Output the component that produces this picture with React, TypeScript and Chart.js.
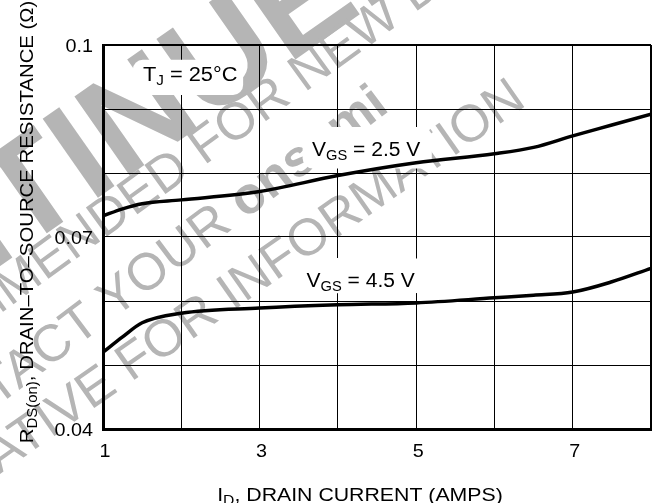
import React, { useEffect, useRef } from "react";
import { Chart, registerables } from "chart.js";

Chart.register(...registerables);

const drainCurrent = [1, 1.25, 1.5, 2, 3, 4, 5, 6, 6.5, 7, 7.5, 8];
const rdsVgs25 = [0.0733, 0.0744, 0.0752, 0.0758, 0.0771, 0.0796, 0.0816, 0.083, 0.084, 0.0858, 0.0875, 0.0892];
const rdsVgs45 = [0.052, 0.0544, 0.0566, 0.0581, 0.0589, 0.0594, 0.0597, 0.0605, 0.0609, 0.0614, 0.063, 0.0651];
const xTickLabels = [1, 3, 5, 7];
const yTickLabels = [0.1, 0.07, 0.04];

const FONT = '"Liberation Sans", Arial, Helvetica, sans-serif';

type Part = { t: string; sub?: boolean };

function partsWidth(ctx: CanvasRenderingContext2D, parts: Part[], size: number, subSize: number) {
  let w = 0;
  for (const p of parts) {
    ctx.font = `${p.sub ? subSize : size}px ${FONT}`;
    w += ctx.measureText(p.t).width;
  }
  return w;
}

function drawParts(
  ctx: CanvasRenderingContext2D,
  parts: Part[],
  x: number,
  y: number,
  size: number,
  subSize: number,
  subOff: number,
  align: "left" | "center",
  sx: number
) {
  const total = partsWidth(ctx, parts, size, subSize);
  const start = align === "center" ? x - (total * sx) / 2 : x;
  ctx.save();
  ctx.translate(start, y);
  ctx.scale(sx, 1);
  ctx.textAlign = "left";
  ctx.textBaseline = "alphabetic";
  let cx = 0;
  for (const p of parts) {
    ctx.font = `${p.sub ? subSize : size}px ${FONT}`;
    ctx.fillText(p.t, cx, p.sub ? subOff : 0);
    cx += ctx.measureText(p.t).width;
  }
  ctx.restore();
  return total * sx;
}

type WPart = { t: string; font: string };
function watermark(ctx: CanvasRenderingContext2D, parts: WPart[], anchor: number, cx: number, cy: number, deg: number) {
  ctx.save();
  ctx.translate(cx, cy);
  ctx.rotate((deg * Math.PI) / 180);
  ctx.textBaseline = "middle";
  ctx.textAlign = "left";
  const widths = parts.map((p) => {
    ctx.font = p.font;
    return ctx.measureText(p.t).width;
  });
  let off = widths[anchor] / 2;
  for (let i = 0; i < anchor; i++) off += widths[i];
  let x = -off;
  parts.forEach((p, i) => {
    ctx.font = p.font;
    ctx.fillText(p.t, x, 0);
    x += widths[i];
  });
  ctx.restore();
}

const customPlugin = {
  id: "customDraw",
  beforeDraw(chart: any) {
    const ctx: CanvasRenderingContext2D = chart.ctx;
    ctx.save();
    ctx.fillStyle = "#b5b5b5";
    const big = `bold 140px ${FONT}`;
    watermark(ctx, [{ t: "DISCON", font: big }, { t: "TINUE", font: big }, { t: "D", font: big }], 1, 170, 100, -35);
    const sm = `52px ${FONT}`;
    const smb = `bold 52px ${FONT}`;
    watermark(ctx, [{ t: "NOT RECOMMENDED ", font: sm }, { t: "FOR", font: sm }, { t: " NEW DESIGN", font: sm }], 1, 240, 122, -36);
    watermark(ctx, [{ t: "CONTACT ", font: sm }, { t: "YOUR", font: sm }, { t: " ", font: sm }, { t: "onsemi", font: smb }], 1, 165, 262, -37);
    watermark(ctx, [{ t: "REPRESENTATIVE FOR ", font: sm }, { t: "INFORMATION", font: sm }], 1, 372, 196, -35);
    ctx.restore();
  },
  beforeDatasetsDraw(chart: any) {
    const ctx: CanvasRenderingContext2D = chart.ctx;
    const xs = chart.scales.x;
    const ys = chart.scales.y;
    ctx.save();
    ctx.fillStyle = "#ffffff";
    const boxes = [
      { x0: 1.38, x1: 2.79, y0: 0.0977, y1: 0.0922 },
      { x0: 3.55, x1: 5.2, y0: 0.0872, y1: 0.0807 },
      { x0: 3.5, x1: 5.1, y0: 0.0667, y1: 0.0612 },
    ];
    for (const b of boxes) {
      const l = xs.getPixelForValue(b.x0);
      const r = xs.getPixelForValue(b.x1);
      const t = ys.getPixelForValue(b.y0);
      const bt = ys.getPixelForValue(b.y1);
      ctx.beginPath();
      (ctx as any).roundRect(l, t, r - l, bt - t, 10);
      ctx.fill();
    }
    ctx.restore();
  },
  afterDraw(chart: any) {
    const ctx: CanvasRenderingContext2D = chart.ctx;
    const xs = chart.scales.x;
    const ys = chart.scales.y;
    const area = chart.chartArea;
    ctx.save();
    ctx.fillStyle = "#000";
    // y tick labels (right-aligned)
    for (const v of yTickLabels) {
      ctx.font = `19px ${FONT}`;
      const w = ctx.measureText(String(v)).width * 1.04;
      drawParts(ctx, [{ t: String(v) }], area.left - 10 - w, ys.getPixelForValue(v) + 7, 19, 14, 4, "left", 1.04);
    }
    // x tick labels
    for (const v of xTickLabels) {
      drawParts(ctx, [{ t: String(v) }], xs.getPixelForValue(v) + 2, area.bottom + 28, 19, 14, 4, "center", 1.04);
    }
    // annotations
    drawParts(ctx, [{ t: "T" }, { t: "J", sub: true }, { t: " = 25°C" }], xs.getPixelForValue(1.51), ys.getPixelForValue(0.0955) + 7, 20, 14, 4, "left", 1.09);
    drawParts(ctx, [{ t: "V" }, { t: "GS", sub: true }, { t: " = 2.5 V" }], xs.getPixelForValue(3.67), ys.getPixelForValue(0.0839) + 8, 20, 14, 4, "left", 1.05);
    drawParts(ctx, [{ t: "V" }, { t: "GS", sub: true }, { t: " = 4.5 V" }], xs.getPixelForValue(3.6), ys.getPixelForValue(0.0633) + 7, 20, 14, 4, "left", 1.05);
    // x title
    drawParts(ctx, [{ t: "I" }, { t: "D", sub: true }, { t: ", DRAIN CURRENT (AMPS)" }], 360, area.bottom + 72, 19, 14, 4, "center", 1.12);
    // y title
    ctx.save();
    ctx.translate(33, 222);
    ctx.rotate(-Math.PI / 2);
    drawParts(ctx, [{ t: "R" }, { t: "DS(on)", sub: true }, { t: ", DRAIN–TO–SOURCE RESISTANCE (Ω)" }], 0, 0, 19, 14, 4, "center", 1.07);
    ctx.restore();
    ctx.restore();
  },
};

export default function App() {
  const ref = useRef<HTMLCanvasElement | null>(null);
  useEffect(() => {
    document.body.style.margin = "0";
    const canvas = ref.current;
    if (!canvas) return;
    const near = (a: number, b: number) => Math.abs(a - b) < 1e-9;
    const chart = new Chart(canvas, {
      type: "line",
      data: {
        labels: drainCurrent,
        datasets: [
          {
            label: "VGS = 2.5 V",
            data: drainCurrent.map((x, i) => ({ x, y: rdsVgs25[i] })),
            borderColor: "#000",
            borderWidth: 3.5,
            pointRadius: 0,
            cubicInterpolationMode: "monotone",
            fill: false,
          },
          {
            label: "VGS = 4.5 V",
            data: drainCurrent.map((x, i) => ({ x, y: rdsVgs45[i] })),
            borderColor: "#000",
            borderWidth: 3.5,
            pointRadius: 0,
            cubicInterpolationMode: "monotone",
            fill: false,
          },
        ],
      },
      options: {
        animation: false,
        responsive: false,
        devicePixelRatio: 1,
        layout: { padding: { left: 103, top: 45, right: 4, bottom: 74 } },
        plugins: { legend: { display: false }, tooltip: { enabled: false } },
        scales: {
          x: {
            type: "linear",
            min: 1,
            max: 8,
            ticks: { display: false, stepSize: 1 },
            grid: {
              color: "#000",
              lineWidth: (c: any) => (c.tick && near(c.tick.value, 8) ? 2 : 1),
              drawTicks: false,
            },
            border: { display: true, color: "#000", width: 3 },
          },
          y: {
            type: "linear",
            min: 0.04,
            max: 0.1,
            ticks: { display: false, stepSize: 0.01 },
            grid: {
              color: "#000",
              lineWidth: (c: any) => (c.tick && near(c.tick.value, 0.1) ? 2 : 1),
              drawTicks: false,
            },
            border: { display: true, color: "#000", width: 3 },
          },
        },
      } as any,
      plugins: [customPlugin],
    });
    return () => chart.destroy();
  }, []);
  return (
    <div style={{ width: 655, height: 503, background: "#fff" }}>
      <canvas ref={ref} width={655} height={503} style={{ display: "block" }} />
    </div>
  );
}
